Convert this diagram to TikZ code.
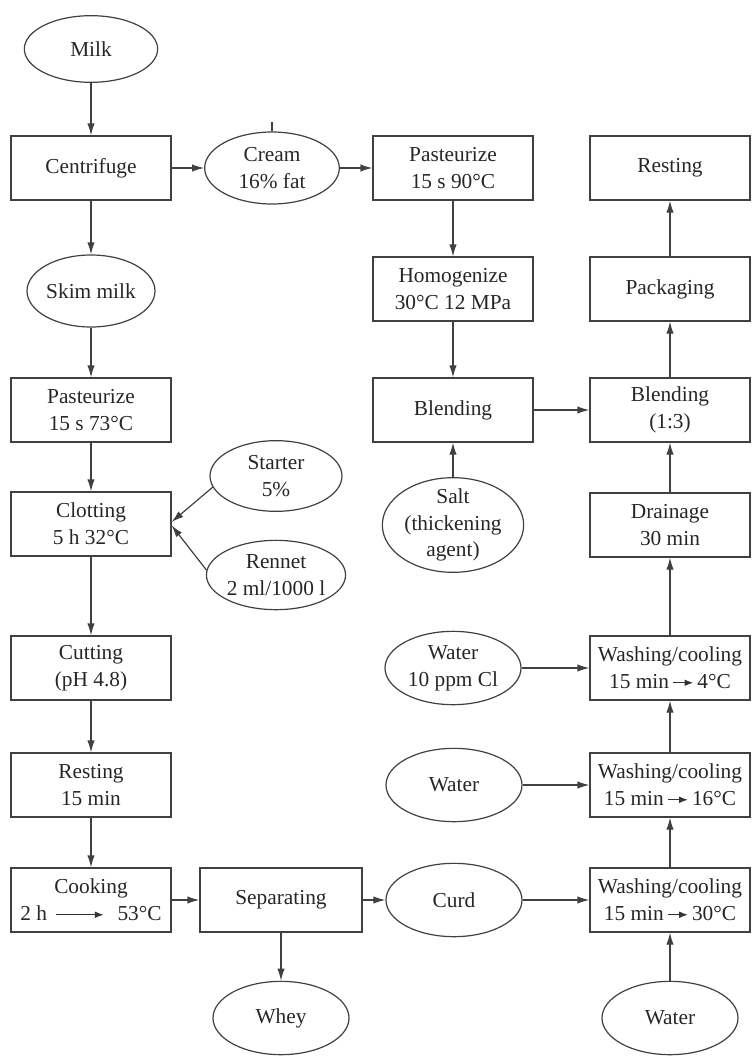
\documentclass[tikz,border=0pt]{standalone}
\usepackage{fontspec}
\setmainfont{Liberation Serif}
\usetikzlibrary{arrows.meta,shapes.geometric,calc}
\newcommand{\txtarrow}[1]{\tikz[baseline=-0.6ex]{\draw[line width=0.9pt, draw=black!80, -{Latex[length=6.5pt,width=5pt]}] (0pt,0pt) -- (#1,0pt);}}
\begin{document}
\begin{tikzpicture}[x=0.75pt,y=-0.75pt,
  every node/.style={font=\fontsize{16}{20}\selectfont, text=black!85, align=center},
  box/.style={draw=black!75, line width=0.9pt, rectangle, minimum width=120pt, minimum height=48pt, inner sep=1pt},
  ell/.style={draw=black!75, line width=0.9pt, ellipse, inner sep=0pt, minimum width=102pt, minimum height=55pt},
  arr/.style={draw=black!75, line width=0.9pt, -{Latex[length=9pt,width=5.5pt]}},
  plain/.style={draw=black!75, line width=0.9pt}]
\useasboundingbox (0,0) rectangle (752,1061);

% row 0 / 1
\node[ell, minimum width=100pt, minimum height=50pt] (milk) at (91,49) {Milk};
\node[box] (centr) at (91,168) {Centrifuge};
\node[ell, minimum width=101pt, minimum height=54pt] (cream) at (272,168) {Cream\\16\% fat};
\node[box] (past90) at (453,168) {Pasteurize\\15 s 90°C};
\node[box] (rest) at (670,168) {Resting};
% row 2
\node[ell, minimum width=96pt, minimum height=54pt] (skim) at (91,291) {Skim milk};
\node[box] (homog) at (453,289) {Homogenize\\30°C 12 MPa};
\node[box] (pack) at (670,289) {Packaging};
% row 3
\node[box] (past73) at (91,410) {Pasteurize\\15 s 73°C};
\node[box] (blend) at (453,410) {Blending};
\node[box] (blend13) at (670,410) {Blending\\(1:3)};
% row 4
\node[ell, minimum width=99pt, minimum height=53pt] (starter) at (276,476) {Starter\\5\%};
\node[box] (clot) at (91,524) {Clotting\\5 h 32°C};
\node[ell, minimum width=106pt, minimum height=71pt] (salt) at (453,525) {};
\node (salttext) at (salt) {Salt\\(thickening\\agent)};
\node[box] (drain) at (670,525) {Drainage\\30 min};
\node[ell, minimum width=101pt, minimum height=52pt] (rennet) at (276,575) {Rennet\\2 ml/1000 l};
% row 5
\node[box] (cut) at (91,668) {Cutting\\(pH 4.8)};
\node[ell] (water1) at (453,668) {Water\\10 ppm Cl};
\node[box] (wash4) at (670,668) {Washing/cooling\\15 min\,\txtarrow{15pt}\,4°C};
% row 6
\node[box] (rest15) at (91,785) {Resting\\15 min};
\node[ell] (water2) at (454,785) {Water};
\node[box] (wash16) at (670,785) {Washing/cooling\\15 min\,\txtarrow{15pt}\,16°C};
% row 7
\node[box] (cook) at (91,900) {Cooking\\\makebox[106pt]{2 h\hspace{6pt}\txtarrow{36pt}\hfill53°C}};
\node[box, minimum width=121.5pt] (sep) at (281,900) {Separating};
\node[ell] (curd) at (454,900) {Curd};
\node[box] (wash30) at (670,900) {Washing/cooling\\15 min\,\txtarrow{15pt}\,30°C};
% row 8
\node[ell] (whey) at (281,1018) {Whey};
\node[ell] (water3) at (670,1018) {Water};

% connectors
\draw[arr] (milk) -- (centr);
\draw[arr] (centr) -- (cream);
\draw[arr] (cream) -- (past90);
\draw[plain] (cream.north) -- ++(0,-9);
\draw[arr] (centr) -- (skim);
\draw[arr] (skim) -- (past73);
\draw[arr] (past73) -- (clot);
\draw[arr] (clot) -- (cut);
\draw[arr] (cut) -- (rest15);
\draw[arr] (rest15) -- (cook);
\draw[arr] (cook) -- (sep);
\draw[arr] (sep) -- (curd);
\draw[arr] (sep) -- (whey);
\draw[arr] (curd) -- (wash30);
\draw[arr] (water3) -- (wash30);
\draw[arr] (wash30) -- (wash16);
\draw[arr] (water2) -- (wash16);
\draw[arr] (wash16) -- (wash4);
\draw[arr] (water1) -- (wash4);
\draw[arr] (wash4) -- (drain);
\draw[arr] (drain) -- (blend13);
\draw[arr] (blend13) -- (pack);
\draw[arr] (pack) -- (rest);
\draw[arr] (past90) -- (homog);
\draw[arr] (homog) -- (blend);
\draw[arr] (blend) -- (blend13);
\draw[arr] (salt) -- (blend);
\draw[arr] (starter.190) -- ([yshift=1.5pt]clot.east);
\draw[arr] (rennet.176) -- ([yshift=-1pt]clot.east);
\end{tikzpicture}
\end{document}
